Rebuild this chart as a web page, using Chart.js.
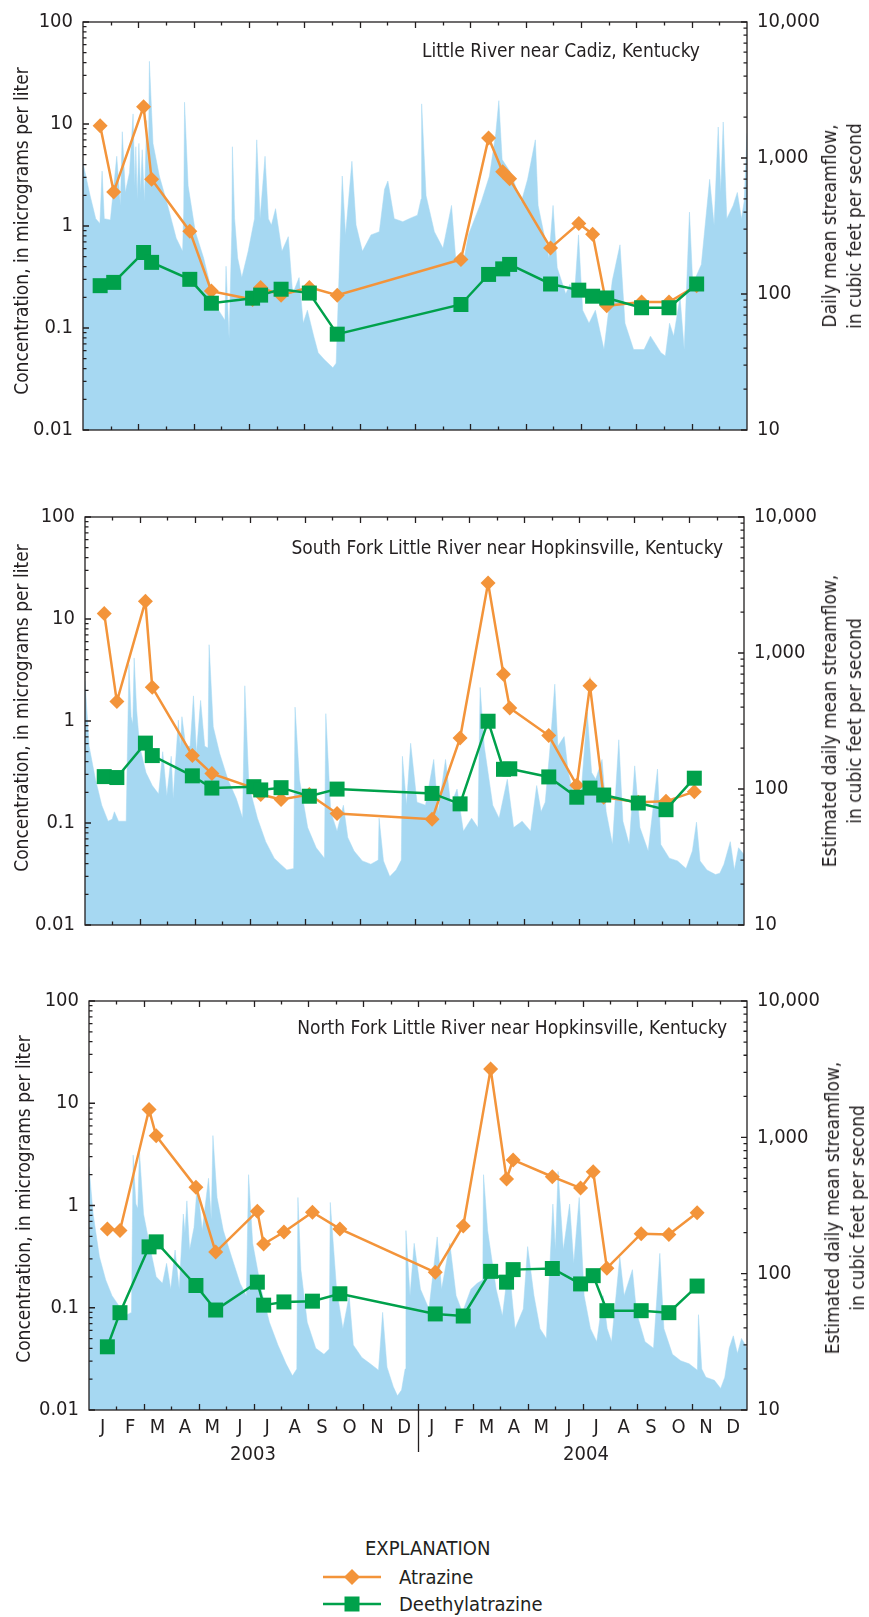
<!DOCTYPE html>
<html>
<head>
<meta charset="utf-8">
<script src="https://cdn.jsdelivr.net/npm/chart.js@4.4.1/dist/chart.umd.min.js"></script>
<style>
  html, body { margin: 0; padding: 0; background: #fff; }
  body {
    width: 869px; height: 1617px; position: relative; overflow: hidden;
    font-family: 'Liberation Sans Narrow', 'DejaVu Sans Condensed', 'Arial Narrow', sans-serif;
    color: #231f20;
  }
  canvas { position: absolute; left: 0; }
  .txt { position: absolute; font-size: 19px; line-height: 20px; white-space: nowrap; }
  .big { font-size: 20px; }
  .mid { transform: translate(-50%, -50%); }
  .rot {
    position: absolute; font-size: 19px; line-height: 25px; white-space: nowrap;
    text-align: center; transform: translate(-50%, -50%) rotate(-90deg);
  }
</style>
</head>
<body>

<canvas id="cadiz" width="869" height="470" style="top:0"></canvas>
<canvas id="south" width="869" height="470" style="top:495px"></canvas>
<canvas id="north" width="869" height="500" style="top:979px"></canvas>

<div class="txt" style="right:169px; top:40px">Little River near Cadiz, Kentucky</div>
<div class="txt" style="right:146px; top:537px">South Fork Little River near Hopkinsville, Kentucky</div>
<div class="txt" style="right:142px; top:1017px">North Fork Little River near Hopkinsville, Kentucky</div>

<div class="rot" style="left:21px; top:231px">Concentration, in micrograms per liter</div>
<div class="rot" style="left:21px; top:708px">Concentration, in micrograms per liter</div>
<div class="rot" style="left:23px; top:1199px">Concentration, in micrograms per liter</div>

<div class="rot" style="left:842px; top:226px">Daily mean streamflow,<br>in cubic feet per second</div>
<div class="rot" style="left:842px; top:721px">Estimated daily mean streamflow,<br>in cubic feet per second</div>
<div class="rot" style="left:845px; top:1208px">Estimated daily mean streamflow,<br>in cubic feet per second</div>

<div id="years"></div>

<div class="txt big" style="left:365px; top:1538px">EXPLANATION</div>
<svg style="position:absolute; left:320px; top:1565px" width="66" height="50">
  <line x1="3" y1="12" x2="61" y2="12" stroke="#f3943a" stroke-width="2.5"/>
  <polygon points="24,12 32,4 40,12 32,20" fill="#f3943a"/>
  <line x1="3" y1="39" x2="61" y2="39" stroke="#00a14b" stroke-width="2.5"/>
  <rect x="24.5" y="31.5" width="15" height="15" fill="#00a14b"/>
</svg>
<div class="txt big" style="left:399px; top:1567px">Atrazine</div>
<div class="txt big" style="left:399px; top:1594px">Deethylatrazine</div>

<script>
// ---- axes ----
const monthLabels = ["J","F","M","A","M","J","J","A","S","O","N","D"];
const yearLabels = ["2003", "2004"];
const concTicks = [0.01, 0.1, 1, 10, 100];
const concTickLabels = ["0.01", "0.1", "1", "10", "100"];
const flowTicks = [10, 100, 1000, 10000];
const flowTickLabels = ["10", "100", "1,000", "10,000"];

// x values are months since 1 Jan 2003 (0 .. 24)

// ---- Little River near Cadiz ----
const cadizSampleMonths = [0.62, 1.11, 2.19, 2.48, 3.86, 4.64, 6.13, 6.42, 7.16, 8.18, 9.19,
  13.66, 14.66, 15.17, 15.42, 16.90, 17.92, 18.42, 18.93, 20.19, 21.18, 22.18];
const cadizAtrazine = [9.6, 2.16, 14.8, 2.87, 0.89, 0.23, 0.19, 0.25, 0.21, 0.25, 0.21,
  0.47, 7.3, 3.4, 2.9, 0.61, 1.06, 0.83, 0.165, 0.18, 0.18, 0.26];
const cadizDeethyl = [0.26, 0.28, 0.55, 0.44, 0.30, 0.175, 0.196, 0.21, 0.24, 0.22, 0.087,
  0.17, 0.335, 0.38, 0.42, 0.27, 0.235, 0.205, 0.197, 0.158, 0.158, 0.27];
const cadizFlowMonths = [
  0, 0.23, 0.46, 0.61, 0.69, 0.77, 0.99, 1.22, 1.35, 1.42,
  1.53, 1.68, 1.81, 1.87, 1.91, 1.96, 2.02, 2.08, 2.14, 2.22,
  2.30, 2.36, 2.40, 2.53, 2.76, 3.06, 3.37, 3.60, 3.64, 3.67,
  3.80, 4.06, 4.36, 4.59, 4.90, 5.13, 5.17, 5.28, 5.38, 5.40,
  5.48, 5.59, 5.74, 5.97, 6.20, 6.28, 6.40, 6.58, 6.70, 6.81,
  6.96, 7.19, 7.42, 7.58, 7.81, 7.96, 8.11, 8.34, 8.50, 8.72,
  9.03, 9.15, 9.26, 9.37, 9.49, 9.72, 9.87, 10.10, 10.41, 10.71,
  10.90, 11.02, 11.25, 11.56, 11.79, 12.09, 12.22, 12.24, 12.40, 12.70,
  13.01, 13.32, 13.47, 13.78, 13.93, 14.39, 14.69, 14.92, 15.03, 15.15,
  15.46, 15.84, 16.07, 16.35, 16.45, 16.84, 16.99, 17.14, 17.45, 17.60,
  17.76, 17.91, 18.06, 18.29, 18.52, 18.83, 19.13, 19.41, 19.59, 19.90,
  20.28, 20.51, 20.89, 21.05, 21.20, 21.35, 21.58, 21.73, 21.92, 22.04,
  22.35, 22.65, 22.81, 22.96, 23.05, 23.14, 23.27, 23.50, 23.65, 23.80,
  23.90, 24];
const cadizFlowCfs = [
  920, 558, 358, 330, 801, 358, 350, 1030, 448, 1560,
  558, 780, 2110, 624, 1210, 500, 1280, 560, 1150, 480,
  1890, 750, 5140, 1280, 737, 448, 257, 206, 400, 2570,
  624, 287, 184, 118, 76, 64, 160, 47, 300, 1210,
  358, 184, 132, 206, 358, 1360, 358, 1030, 358, 321,
  424, 206, 264, 100, 132, 61, 76, 49, 37, 33,
  28.7, 31, 148, 737, 272, 946, 321, 206, 272, 287,
  590, 677, 358, 340, 358, 380, 500, 2500, 528, 287,
  217, 448, 184, 184, 272, 473, 737, 1520, 2640, 973,
  780, 473, 697, 1360, 448, 184, 448, 156, 100, 118,
  95, 272, 76, 61, 76, 39, 125, 230, 61, 39,
  39, 49, 37, 35, 61, 49, 95, 39, 400, 118,
  165, 697, 321, 1690, 560, 1840, 358, 448, 558, 358,
  480, 1520];

// ---- South Fork Little River near Hopkinsville ----
const southSampleMonths = [0.70, 1.16, 2.20, 2.45, 3.91, 4.62, 6.15, 6.40, 7.14, 8.17, 9.18,
  12.64, 13.66, 14.68, 15.24, 15.47, 16.89, 17.91, 18.39, 18.89, 20.15, 21.16, 22.19];
const southAtrazine = [11.3, 1.55, 14.9, 2.14, 0.46, 0.305, 0.22, 0.19, 0.17, 0.19, 0.124,
  0.109, 0.68, 22.5, 2.87, 1.34, 0.72, 0.235, 2.21, 0.179, 0.16, 0.163, 0.203];
const southDeethyl = [0.285, 0.279, 0.607, 0.458, 0.29, 0.22, 0.227, 0.211, 0.222, 0.183, 0.215,
  0.195, 0.154, 0.995, 0.336, 0.34, 0.283, 0.179, 0.22, 0.188, 0.157, 0.135, 0.275];
const southFlowMonths = [
  0, 0.15, 0.38, 0.61, 0.84, 0.99, 1.07, 1.22, 1.50, 1.60,
  1.68, 1.74, 1.79, 1.88, 1.99, 2.22, 2.45, 2.68, 2.83, 2.98,
  3.14, 3.21, 3.40, 3.47, 3.53, 3.67, 3.83, 3.95, 4.06, 4.21,
  4.36, 4.48, 4.52, 4.67, 4.90, 5.20, 5.51, 5.74, 5.82, 5.97,
  6.28, 6.58, 6.89, 7.12, 7.35, 7.60, 7.65, 7.81, 8.11, 8.42,
  8.72, 8.77, 8.95, 9.18, 9.41, 9.57, 9.80, 10.10, 10.41, 10.68,
  10.71, 10.87, 11.10, 11.33, 11.52, 11.56, 11.71, 11.86, 12.09, 12.40,
  12.70, 12.86, 13.13, 13.32, 13.55, 13.78, 14.08, 14.31, 14.39, 14.54,
  14.85, 15.08, 15.38, 15.61, 15.92, 16.23, 16.45, 16.61, 16.76, 16.92,
  17.11, 17.22, 17.45, 17.60, 17.83, 18.06, 18.29, 18.45, 18.60, 18.83,
  18.98, 19.21, 19.44, 19.59, 19.82, 20.02, 20.21, 20.51, 20.85, 20.97,
  21.28, 21.58, 21.89, 22.12, 22.27, 22.40, 22.65, 22.96, 23.12, 23.27,
  23.50, 23.65, 23.80, 24];
const southFlowCfs = [
  624, 206, 118, 76, 58, 60, 68, 58, 58, 824,
  340, 300, 920, 380, 206, 132, 106, 92, 188, 89,
  174, 85, 321, 200, 340, 206, 206, 484, 184, 448,
  206, 200, 1150, 287, 184, 118, 85, 61, 574, 106,
  61, 41, 31, 28, 25.4, 26, 400, 118, 52, 37,
  31, 358, 68, 49, 76, 44, 35, 29.6, 28, 30,
  61, 29.6, 22.7, 25.4, 30, 174, 76, 217, 80, 76,
  165, 68, 165, 76, 100, 49, 61, 52, 558, 206,
  76, 61, 118, 52, 58, 49, 106, 68, 80, 184,
  590, 206, 243, 132, 85, 89, 368, 132, 118, 165,
  68, 39, 230, 58, 39, 148, 52, 35, 140, 39,
  31, 29.6, 26, 35, 57, 29.6, 25.4, 23.5, 24, 28,
  41, 25.4, 37, 33];

// ---- North Fork Little River near Hopkinsville ----
const northSampleMonths = [0.67, 1.13, 2.19, 2.45, 3.90, 4.62, 6.14, 6.37, 7.11, 8.15, 9.15,
  12.63, 13.65, 14.65, 15.23, 15.47, 16.90, 17.93, 18.39, 18.89, 20.14, 21.15, 22.18];
const northAtrazine = [0.59, 0.57, 8.7, 4.8, 1.51, 0.35, 0.88, 0.42, 0.55, 0.86, 0.59,
  0.222, 0.63, 21.6, 1.82, 2.79, 1.91, 1.48, 2.14, 0.244, 0.53, 0.52, 0.85];
const northDeethyl = [0.0415, 0.0895, 0.394, 0.441, 0.165, 0.095, 0.178, 0.106, 0.114, 0.116, 0.137,
  0.087, 0.083, 0.227, 0.178, 0.236, 0.242, 0.171, 0.206, 0.0936, 0.0936, 0.0895, 0.163];
const northFlowMonths = [
  0, 0.15, 0.38, 0.61, 0.84, 1.07, 1.30, 1.55, 1.61, 1.71,
  1.78, 1.84, 1.99, 2.22, 2.45, 2.68, 2.83, 2.98, 3.14, 3.29,
  3.44, 3.50, 3.57, 3.67, 3.83, 3.95, 4.13, 4.36, 4.46, 4.52,
  4.67, 4.90, 5.20, 5.51, 5.74, 5.82, 5.97, 6.28, 6.58, 6.89,
  7.19, 7.42, 7.58, 7.62, 7.73, 7.96, 8.27, 8.57, 8.76, 8.80,
  9.03, 9.26, 9.49, 9.64, 9.95, 10.26, 10.56, 10.71, 10.87, 11.10,
  11.25, 11.40, 11.53, 11.56, 11.71, 11.86, 12.09, 12.40, 12.70, 12.86,
  13.16, 13.39, 13.62, 13.93, 14.16, 14.36, 14.39, 14.54, 14.85, 15.08,
  15.31, 15.54, 15.84, 16.00, 16.23, 16.45, 16.68, 16.92, 17.01, 17.11,
  17.30, 17.53, 17.68, 17.88, 18.06, 18.29, 18.52, 18.75, 18.90, 19.06,
  19.36, 19.52, 19.82, 19.97, 20.28, 20.59, 20.82, 20.97, 21.28, 21.58,
  21.89, 22.19, 22.23, 22.35, 22.50, 22.81, 23.04, 23.19, 23.35, 23.50,
  23.65, 23.80, 24];
const northFlowCfs = [
  611, 274, 133, 90, 69, 59, 49, 52, 741, 324,
  300, 783, 274, 158, 95, 85, 119, 77, 149, 77,
  274, 200, 342, 149, 218, 451, 207, 501, 250, 1030,
  362, 207, 133, 85, 69, 532, 167, 77, 44, 30,
  21.8, 17.8, 20, 362, 107, 44, 28.4, 25.6, 28, 333,
  77, 39.5, 69, 30, 24.3, 21.8, 19.6, 52, 20.6, 14.8,
  12.7, 14, 20, 207, 69, 167, 77, 55, 186, 77,
  167, 69, 52, 77, 85, 90, 532, 207, 77, 49,
  119, 39.5, 55, 158, 69, 39.5, 33.5, 324, 150, 562,
  149, 324, 119, 362, 69, 39.5, 31.7, 69, 39.5, 31.7,
  133, 69, 107, 52, 31.7, 28.4, 141, 39.5, 25.6, 23,
  21.8, 19.6, 50, 20, 17.4, 16.5, 14.4, 17.4, 28.4, 35,
  26, 33.5, 28.4];

// ---- style ----
const FONT = "'Liberation Sans Narrow', 'DejaVu Sans Condensed', 'Arial Narrow', sans-serif";
const INK = "#231f20";
const ORANGE = "#f3943a";
const GREEN = "#00a14b";
const FLOW = "#a6d8f2";

function pts(xs, ys) {
  return xs.map((x, i) => ({ x, y: ys[i] }));
}

function minorLogValues(lo, hi) {
  const out = [];
  for (let d = lo; d < hi * 0.999; d *= 10) {
    for (let k = 1; k < 10; k++) out.push([k * d, k === 1]);
  }
  out.push([hi, true]);
  return out;
}

// frame + ticks drawn inside the plot, like the report figures
const insideTicks = {
  id: "insideTicks",
  afterDatasetsDraw(chart, args, opts) {
    const { ctx, chartArea: a, scales } = chart;
    ctx.save();
    ctx.strokeStyle = INK;
    ctx.lineWidth = 1.3;
    ctx.beginPath();
    for (let m = 1; m < 24; m++) {
      const x = Math.round(scales.x.getPixelForValue(m)) + 0.5;
      const len = m % 2 === 0 ? 6 : 3.5;
      ctx.moveTo(x, a.top); ctx.lineTo(x, a.top + len);
      ctx.moveTo(x, a.bottom); ctx.lineTo(x, a.bottom - len);
    }
    minorLogValues(0.01, 100).forEach(([v, major]) => {
      const y = scales.y.getPixelForValue(v);
      ctx.moveTo(a.left, y); ctx.lineTo(a.left + (major ? 6 : 3.5), y);
    });
    minorLogValues(10, 10000).forEach(([v, major]) => {
      const y = scales.yq.getPixelForValue(v);
      ctx.moveTo(a.right, y); ctx.lineTo(a.right - (major ? 6 : 3.5), y);
    });
    ctx.stroke();
    ctx.strokeRect(a.left, a.top, a.right - a.left, a.bottom - a.top);
    if (opts.yearLine) {
      const x = Math.round(scales.x.getPixelForValue(12)) + 0.5;
      ctx.beginPath();
      ctx.moveTo(x, a.bottom);
      ctx.lineTo(x, a.bottom + 42);
      ctx.stroke();
    }
    ctx.restore();
  }
};

function makePanel(id, cfg) {
  const font = { family: FONT, size: 20 };
  return new Chart(document.getElementById(id), {
    type: "line",
    data: {
      datasets: [
        {
          label: "Deethylatrazine",
          data: pts(cfg.samples, cfg.deethyl),
          yAxisID: "y",
          borderColor: GREEN,
          backgroundColor: GREEN,
          borderWidth: 2.5,
          pointStyle: "rect",
          pointRadius: 10.6,
          pointBorderWidth: 0,
          order: 1
        },
        {
          label: "Atrazine",
          data: pts(cfg.samples, cfg.atrazine),
          yAxisID: "y",
          borderColor: ORANGE,
          backgroundColor: ORANGE,
          borderWidth: 2.5,
          pointStyle: "rectRot",
          pointRadius: 7.5,
          pointBorderWidth: 0,
          order: 2
        },
        {
          label: "Streamflow",
          data: pts(cfg.flowMonths, cfg.flowCfs),
          yAxisID: "yq",
          borderColor: FLOW,
          backgroundColor: FLOW,
          borderWidth: 0.5,
          pointRadius: 0,
          fill: "start",
          order: 3
        }
      ]
    },
    options: {
      responsive: false,
      animation: false,
      devicePixelRatio: 1,
      events: [],
      layout: { padding: { top: 15, bottom: cfg.padBottom, left: 0, right: 0 } },
      plugins: {
        legend: { display: false },
        tooltip: { enabled: false },
        insideTicks: { yearLine: cfg.showMonths }
      },
      scales: {
        x: {
          type: "linear",
          min: 0,
          max: 24,
          grid: { display: false, drawTicks: false },
          border: { display: false },
          ticks: {
            display: cfg.showMonths,
            padding: 6,
            autoSkip: false,
            maxRotation: 0,
            color: INK,
            font,
            callback: (v) => monthLabels[Math.floor(v) % 12]
          },
          afterBuildTicks: (s) => {
            s.ticks = [];
            for (let i = 0; i < 24; i++) s.ticks.push({ value: i + 0.5 });
          },
          afterFit: (s) => { s.height = cfg.xHeight; }
        },
        y: {
          type: "logarithmic",
          position: "left",
          min: 0.01,
          max: 100,
          grid: { display: false, drawTicks: false },
          border: { display: false },
          ticks: { padding: 10, color: INK, font, callback: (v, i) => concTickLabels[i] },
          afterBuildTicks: (s) => { s.ticks = concTicks.map((v) => ({ value: v })); },
          afterFit: (s) => { s.width = cfg.left; }
        },
        yq: {
          type: "logarithmic",
          axis: "y",
          position: "right",
          min: 10,
          max: 10000,
          grid: { display: false, drawTicks: false },
          border: { display: false },
          ticks: { padding: 10, color: INK, font, callback: (v, i) => flowTickLabels[i] },
          afterBuildTicks: (s) => { s.ticks = flowTicks.map((v) => ({ value: v })); },
          afterFit: (s) => { s.width = cfg.right; }
        }
      }
    },
    plugins: [insideTicks]
  });
}

window.addEventListener("load", () => {
  makePanel("cadiz", {
    samples: cadizSampleMonths, atrazine: cadizAtrazine, deethyl: cadizDeethyl,
    flowMonths: cadizFlowMonths, flowCfs: cadizFlowCfs,
    left: 83, right: 122, padBottom: 40, xHeight: 0, showMonths: false
  });
  makePanel("south", {
    samples: southSampleMonths, atrazine: southAtrazine, deethyl: southDeethyl,
    flowMonths: southFlowMonths, flowCfs: southFlowCfs,
    left: 85, right: 125, padBottom: 40, xHeight: 0, showMonths: false
  });
  makePanel("north", {
    samples: northSampleMonths, atrazine: northAtrazine, deethyl: northDeethyl,
    flowMonths: northFlowMonths, flowCfs: northFlowCfs,
    left: 89, right: 122, padBottom: 0, xHeight: 69, showMonths: true
  });

  // year captions under the month labels
  const years = document.getElementById("years");
  const yearCenters = [253, 586];
  yearLabels.forEach((t, i) => {
    const d = document.createElement("div");
    d.className = "txt big mid";
    d.style.left = yearCenters[i] + "px";
    d.style.top = "1453px";
    d.textContent = t;
    years.appendChild(d);
  });
});
</script>
</body>
</html>
